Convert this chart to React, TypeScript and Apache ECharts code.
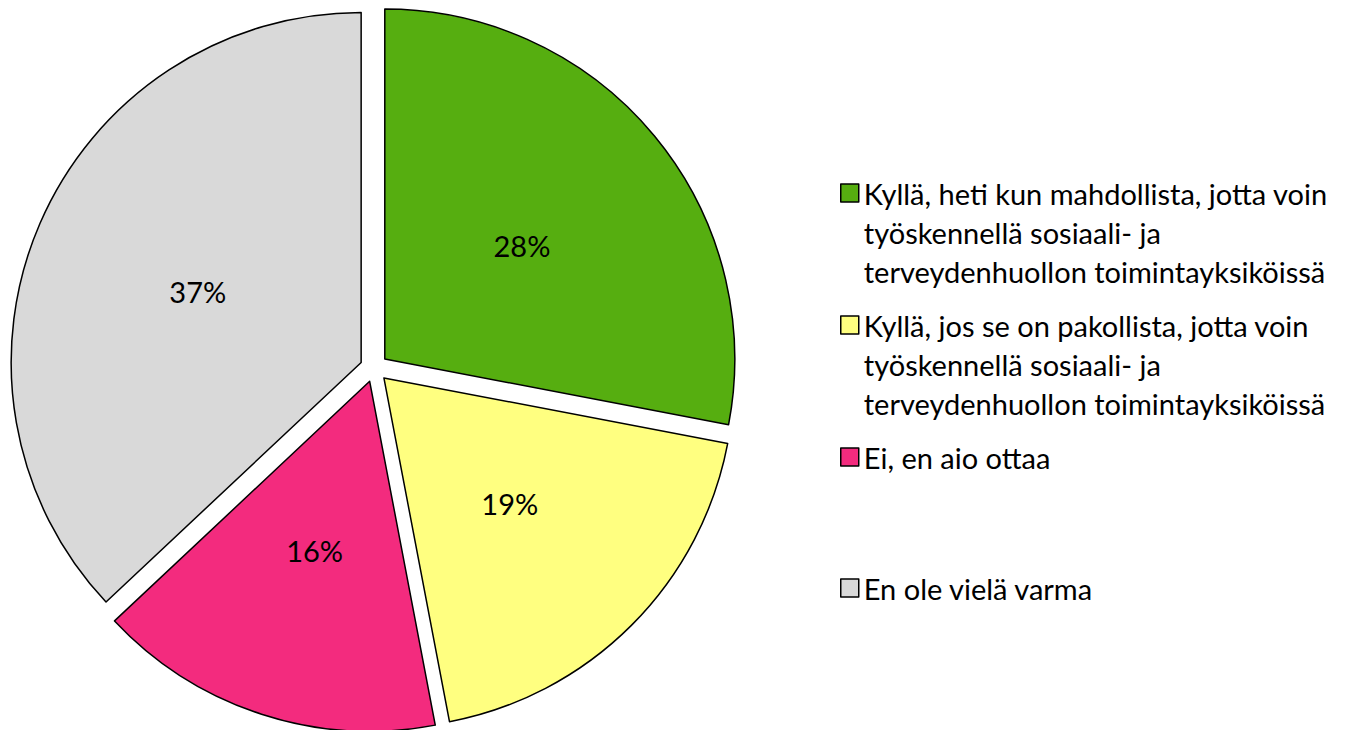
import React, { useEffect, useRef } from "react";
import * as echarts from "echarts";

const categoryLines: string[][] = [
  ["Kyllä, heti kun mahdollista, jotta voin", "työskennellä sosiaali- ja", "terveydenhuollon toimintayksiköissä"],
  ["Kyllä, jos se on pakollista, jotta voin", "työskennellä sosiaali- ja", "terveydenhuollon toimintayksiköissä"],
  ["Ei, en aio ottaa"],
  ["En ole vielä varma"],
];
const categories = categoryLines.map((l) => l.join(" "));
const values = [28, 19, 16, 37];
const colors = ["#56AE10", "#FFFF80", "#F32B7E", "#D9D9D9"];
const legendIconCenters = [193, 325, 457, 588];

const FONT = "Lato";
const FS = 29;
const LH = 39;

export default function App() {
  const ref = useRef<HTMLDivElement>(null);
  useEffect(() => {
    const chart = echarts.init(ref.current!, null, { renderer: "svg" });
    const legends = categories.map((name, i) => {
      const n = categoryLines[i].length;
      const blockH = LH * (2 * n - 1);
      const lines = [...Array(n - 1).fill(""), ...categoryLines[i]];
      return {
        data: [name],
        left: 840,
        top: legendIconCenters[i] - blockH / 2,
        padding: 0,
        orient: "vertical",
        icon: "rect",
        itemWidth: 18,
        itemHeight: 18,
        selectedMode: false,
        itemStyle: { borderColor: "#000", borderWidth: 1.5 },
        formatter: () => lines.join("\n"),
        textStyle: {
          fontFamily: FONT,
          fontSize: FS,
          color: "#000",
          lineHeight: LH,
        },
      };
    });
    chart.setOption({
      animation: false,
      legend: legends,
      series: [
        {
          type: "pie",
          center: [374, 368],
          radius: 350,
          startAngle: 90,
          clockwise: true,
          selectedMode: "multiple",
          selectedOffset: 14,
          avoidLabelOverlap: false,
          emphasis: { disabled: true },
          itemStyle: { borderColor: "#000", borderWidth: 1.5 },
          label: {
            show: true,
            position: "inside",
            formatter: "{c}%",
            fontFamily: FONT,
            fontSize: FS,
            color: "#000",
          },
          labelLine: { show: false },
          data: categories.map((name, i) => ({
            name,
            value: values[i],
            selected: true,
            itemStyle: { color: colors[i] },
          })),
        },
      ],
    });
    return () => chart.dispose();
  }, []);
  return (
    <div
      ref={ref}
      style={{ position: "fixed", left: 0, top: 0, width: 1354, height: 730, background: "#fff" }}
    />
  );
}
